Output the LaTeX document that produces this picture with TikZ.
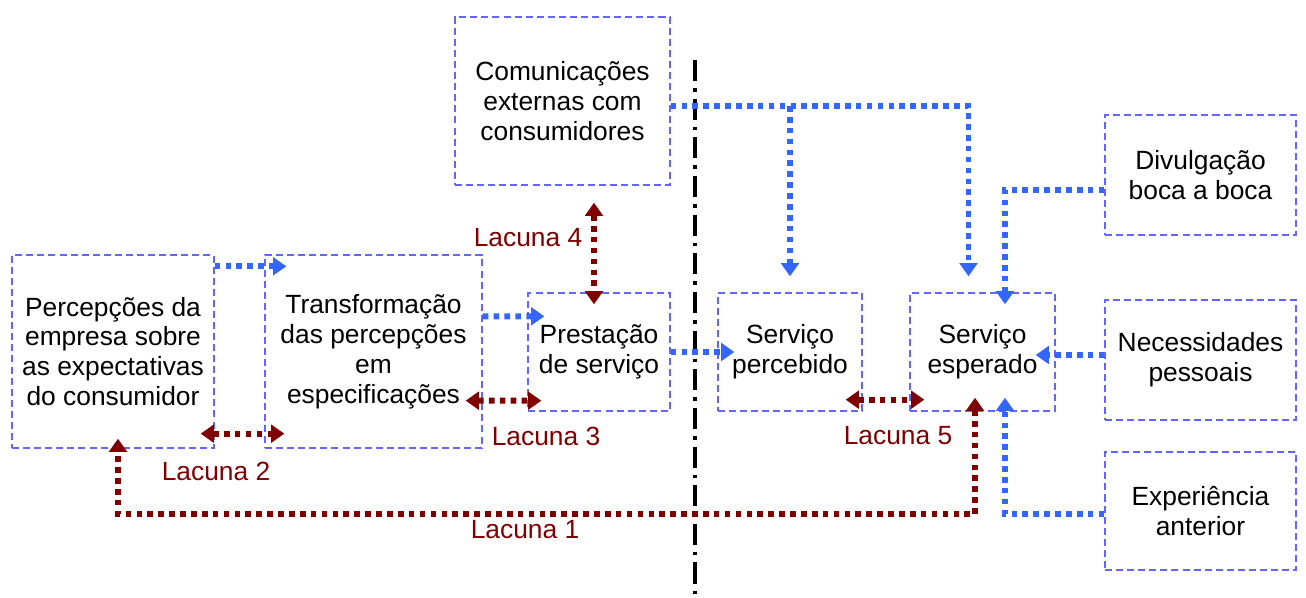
\documentclass[tikz,border=0pt]{standalone}
\usepackage{fontspec}
\setmainfont{Liberation Sans}
\usetikzlibrary{positioning,calc,arrows.meta}
\definecolor{boxblue}{RGB}{100,100,255}
\definecolor{flowblue}{RGB}{51,102,255}
\definecolor{gapred}{RGB}{128,0,0}
\tikzset{
	gapbox/.style={draw=boxblue, line width=0.8pt, dash pattern=on 4pt off 2.3pt, align=center, inner sep=0pt, font=\fontsize{15}{17}\selectfont},
	flowarrow/.style={draw=flowblue, line width=3.4pt, dash pattern=on 3.2pt off 3pt, -{Triangle[length=7.5pt,width=10pt]}},
	gaparrow/.style={draw=gapred, line width=3.4pt, dash pattern=on 3.2pt off 3pt, {Triangle[length=7.5pt,width=10pt]}-{Triangle[length=7.5pt,width=10pt]}},
	gaplabel/.style={text=gapred, font=\fontsize{15}{17}\selectfont},
}
\begin{document}
\begin{tikzpicture}[x=0.02cm,y=-0.02cm]
	\useasboundingbox (0,0) rectangle (1306,598);
	
	% boxes
	\node[gapbox, minimum width=4.04cm, minimum height=3.86cm] (percep) at (113,351.5) {Percepções da\\empresa sobre\\as expectativas\\do consumidor};
	\node[gapbox, minimum width=4.34cm, minimum height=3.86cm] (transf) at (373.5,351.5) {Transformação\\das percepções\\em\\especificações};
	\node[gapbox, minimum width=2.84cm, minimum height=2.36cm] (prest) at (599,352) {Prestação\\de serviço};
	\node[gapbox, minimum width=4.3cm, minimum height=3.36cm] (comun) at (562.5,101) {Comunicações\\externas com\\consumidores};
	\node[gapbox, minimum width=2.88cm, minimum height=2.36cm] (percebido) at (790,352) {Serviço\\percebido};
	\node[gapbox, minimum width=2.9cm, minimum height=2.36cm] (esperado) at (982.5,352) {Serviço\\esperado};
	\node[gapbox, minimum width=3.82cm, minimum height=2.4cm] (divulg) at (1200.5,175) {Divulgação\\boca a boca};
	\node[gapbox, minimum width=3.82cm, minimum height=2.4cm] (necess) at (1200.5,360) {Necessidades\\pessoais};
	\node[gapbox, minimum width=3.82cm, minimum height=2.36cm] (exper) at (1200.5,511) {Experiência\\anterior};
	
	% separation line
	\coordinate (sep top) at (695,60);
	\coordinate (sep bottom) at (695,598);
	\draw[black, line width=2.2pt, dash pattern=on 12pt off 4pt on 2pt off 4pt] (sep top) -- (sep bottom);
	
	% blue flows
	\draw[flowarrow] ($(percep.north east)+(0,12)$) -- ($(transf.north west)+(22,12)$);
	\draw[flowarrow] ($(transf.north east)+(0,62)$) -- ($(prest.north west)+(17,24)$);
	\draw[flowarrow] (prest.east) -- ($(percebido.west)+(17,0)$);
	\coordinate (comun out) at ($(comun.east)+(0,5)$);
	\draw[flowarrow] (comun out) -| ($(esperado.north)+(-14,-16)$);
	\draw[flowarrow] (percebido.north |- comun out) -- ($(percebido.north)+(0,-16)$);
	\draw[flowarrow] ($(divulg.west)+(0,15)$) -| ($(esperado.north)+(22.5,12)$);
	\draw[flowarrow] ($(necess.west)+(0,-5)$) -- ($(esperado.east)+(-20,3)$);
	\draw[flowarrow] ($(exper.west)+(0,3)$) -| ($(esperado.south)+(22.5,-14)$);
	
	% gaps
	\draw[gaparrow] ($(percep.south east)+(-14,-15)$) -- ($(transf.south west)+(20,-15)$);
	\draw[gaparrow] ($(transf.south east)+(-17,-48)$) -- ($(prest.south west)+(14,-11)$);
	\coordinate (gap4) at ($(prest.north)+(-5,0)$);
	\draw[gaparrow] ($(gap4 |- comun.south)+(0,17)$) -- ($(gap4)+(0,12)$);
	\draw[gaparrow] ($(percebido.south east)+(-17,-12)$) -- ($(esperado.south west)+(15,-12)$);
	\coordinate (gap1 start) at ($(esperado.south)+(-7.5,-14)$);
	\coordinate (gap1 end) at ($(percep.south)+(5,-10)$);
	\coordinate (gap1 low) at (0,514);
	\draw[gaparrow] (gap1 start) -- (gap1 start |- gap1 low) -- (gap1 end |- gap1 low) -- (gap1 end);
	
	\node[gaplabel] (lac1) at (525,530) {Lacuna 1};
	\node[gaplabel] (lac2) at (216,471) {Lacuna 2};
	\node[gaplabel] (lac3) at (546,436) {Lacuna 3};
	\node[gaplabel] (lac4) at (528,238) {Lacuna 4};
	\node[gaplabel] (lac5) at (898,436) {Lacuna 5};
\end{tikzpicture}
\end{document}
